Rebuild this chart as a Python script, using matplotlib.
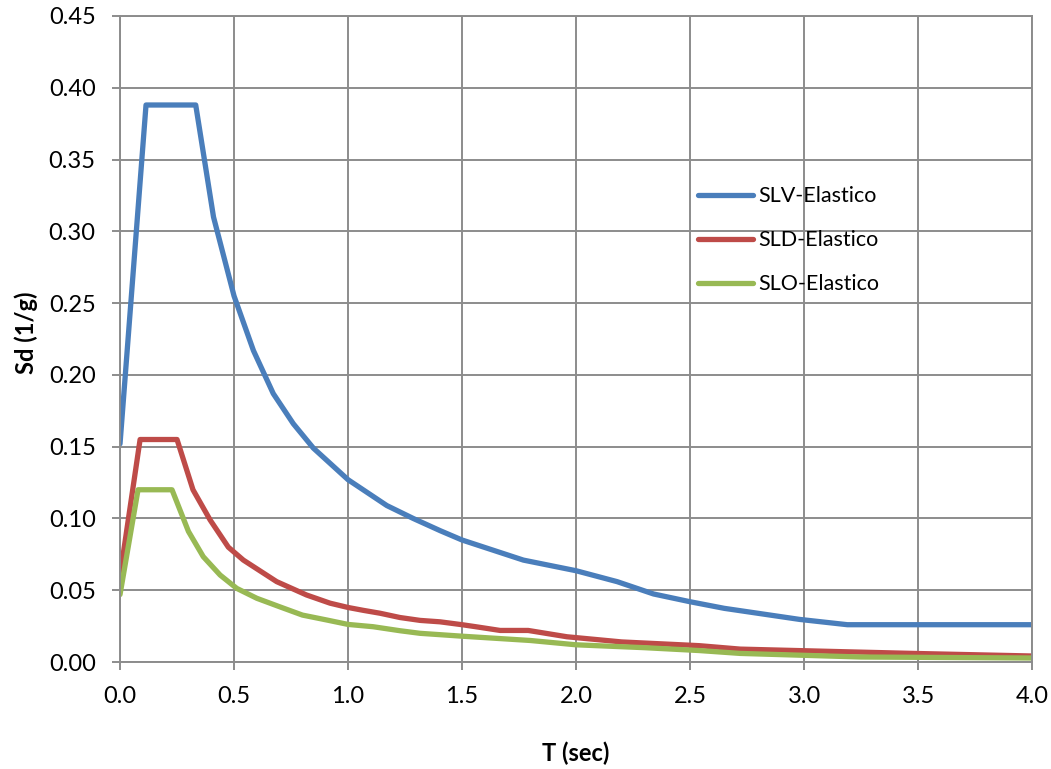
import matplotlib
matplotlib.use("Agg")
import matplotlib.pyplot as plt
import numpy as np

# SLV-Elastico
T_slv = [0.0, 0.114, 0.332, 0.41, 0.50, 0.585, 0.672, 0.76, 0.848, 1.0, 1.17, 1.286, 1.404, 1.5,
         1.769, 2.0, 2.18, 2.34, 2.5, 2.65, 2.98, 3.19, 4.0]
SLV = [0.152, 0.388, 0.388, 0.310, 0.255, 0.217, 0.187, 0.166, 0.149, 0.127, 0.109, 0.100, 0.0915,
       0.085, 0.071, 0.0636, 0.056, 0.0474, 0.042, 0.0374, 0.0297, 0.026, 0.026]

# SLD-Elastico
T_sld = [0.0, 0.088, 0.25, 0.32, 0.395, 0.475, 0.541, 0.687, 0.818, 0.921, 1.0, 1.067, 1.14, 1.228,
         1.316, 1.404, 1.5, 1.56, 1.667, 1.79, 1.96, 2.2, 2.54, 2.72, 3.17, 3.48, 4.0]
SLD = [0.060, 0.155, 0.155, 0.120, 0.099, 0.080, 0.071, 0.056, 0.0467, 0.041, 0.038, 0.036, 0.034,
       0.031, 0.029, 0.028, 0.026, 0.0246, 0.022, 0.022, 0.0176, 0.014, 0.0114, 0.009, 0.0072,
       0.006, 0.0042]

# SLO-Elastico
T_slo = [0.0, 0.079, 0.228, 0.30, 0.365, 0.439, 0.512, 0.60, 0.70, 0.80, 0.906, 1.0, 1.11, 1.228,
         1.316, 1.5, 1.8, 2.0, 2.3, 2.54, 2.72, 3.25, 4.0]
SLO = [0.047, 0.120, 0.120, 0.091, 0.0734, 0.0606, 0.0513, 0.0444, 0.0385, 0.0327, 0.0293, 0.0262,
       0.0246, 0.0218, 0.020, 0.018, 0.015, 0.012, 0.010, 0.008, 0.006, 0.0035, 0.0028]

labels = ["SLV-Elastico", "SLD-Elastico", "SLO-Elastico"]
colors = ["#4a7ebb", "#be4b48", "#98b954"]
xticks = [0.0, 0.5, 1.0, 1.5, 2.0, 2.5, 3.0, 3.5, 4.0]
yticks = [0.00, 0.05, 0.10, 0.15, 0.20, 0.25, 0.30, 0.35, 0.40, 0.45]

plt.rcParams['font.family'] = ['Lato', 'DejaVu Sans']

fig = plt.figure(figsize=(10.51, 7.69), dpi=100)
ax = fig.add_axes([0.1142, 0.1391, 0.8678, 0.8401])

for T, v, lab, c in zip([T_slv, T_sld, T_slo], [SLV, SLD, SLO], labels, colors):
    ax.plot(T, v, color=c, lw=3.8, label=lab, solid_joinstyle='round', solid_capstyle='round')

ax.set_xlim(0, 4.0)
ax.set_ylim(0, 0.45)
ax.set_xticks(xticks)
ax.set_yticks(yticks)
ax.set_xticklabels([f"{x:.1f}" for x in xticks])
ax.set_yticklabels([f"{y:.2f}" for y in yticks])
ax.grid(True, color="#8c8c8c", lw=1.4)
ax.set_axisbelow(True)
for s in ax.spines.values():
    s.set_color("#8c8c8c")
    s.set_linewidth(1.4)
ax.tick_params(axis='both', colors="#8c8c8c", length=5.5, width=1.4, labelsize=17,
               labelcolor="black", pad=12)
ax.set_xlabel("T (sec)", fontsize=17, fontweight='bold', va='center')
ax.set_ylabel("Sd (1/g)", fontsize=17, fontweight='bold', va='center')
ax.xaxis.set_label_coords(0.5, -0.1409)
ax.yaxis.set_label_coords(-0.103, 0.51)

leg = ax.legend(loc='center left', bbox_to_anchor=(0.613, 0.653), frameon=False, fontsize=15.5,
                handlelength=2.55, labelspacing=1.12, handletextpad=0.25, borderpad=0.4)

fig.savefig("out.png", dpi=100)
